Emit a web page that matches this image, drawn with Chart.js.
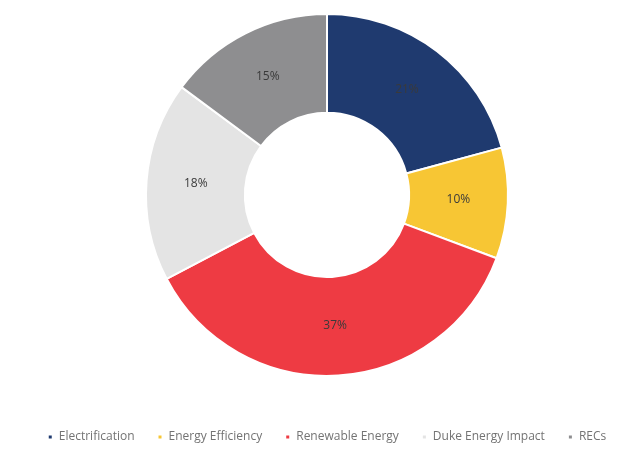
<!DOCTYPE html>
<html>
<head>
<meta charset="utf-8">
<script src="https://cdn.jsdelivr.net/npm/chart.js@4.4.1/dist/chart.umd.min.js"></script>
<style>
html,body{margin:0;padding:0;background:#fff;overflow:hidden;}
#wrap{width:621px;height:451px;position:relative;overflow:hidden;}
#c{position:absolute;left:0;top:0;}
</style>
</head>
<body>
<div id="wrap"><canvas id="c" width="654" height="451"></canvas></div>
<script>
const categories = ['Electrification', 'Energy Efficiency', 'Renewable Energy', 'Duke Energy Impact', 'RECs'];
const shares = [21, 10, 37, 18, 15];
const sliceColors = ['#1F3A6F', '#F7C634', '#EE3B43', '#E4E4E4', '#8E8E90'];

const sliceLabels = {
  id: 'sliceLabels',
  afterDatasetsDraw(chart) {
    const ctx = chart.ctx;
    const meta = chart.getDatasetMeta(0);
    ctx.save();
    ctx.font = '12px "Open Sans", sans-serif';
    ctx.fillStyle = '#3a3a3a';
    ctx.textAlign = 'center';
    ctx.textBaseline = 'middle';
    meta.data.forEach((arc, i) => {
      const p = arc.tooltipPosition();
      ctx.fillText(shares[i] + '%', p.x, p.y - 1);
    });
    ctx.restore();
  }
};

new Chart(document.getElementById('c'), {
  type: 'doughnut',
  data: {
    labels: categories,
    datasets: [{
      data: shares,
      backgroundColor: sliceColors,
      borderColor: '#ffffff',
      borderWidth: 2,
      radius: 181,
      cutout: 88
    }]
  },
  options: {
    responsive: false,
    animation: false,
    layout: { padding: { top: 0, left: 0, right: 0, bottom: -2 } },
    plugins: {
      tooltip: { enabled: false },
      legend: {
        position: 'bottom',
        title: { display: true, text: ' ', font: { size: 1 }, padding: { top: 17, bottom: 0 } },
        labels: {
          usePointStyle: true,
          pointStyle: 'rect',
          boxWidth: 5,
          boxHeight: 5,
          padding: 23,
          color: '#737373',
          font: { family: '"Open Sans", sans-serif', size: 12 }
        }
      }
    }
  },
  plugins: [sliceLabels]
});
</script>
</body>
</html>
